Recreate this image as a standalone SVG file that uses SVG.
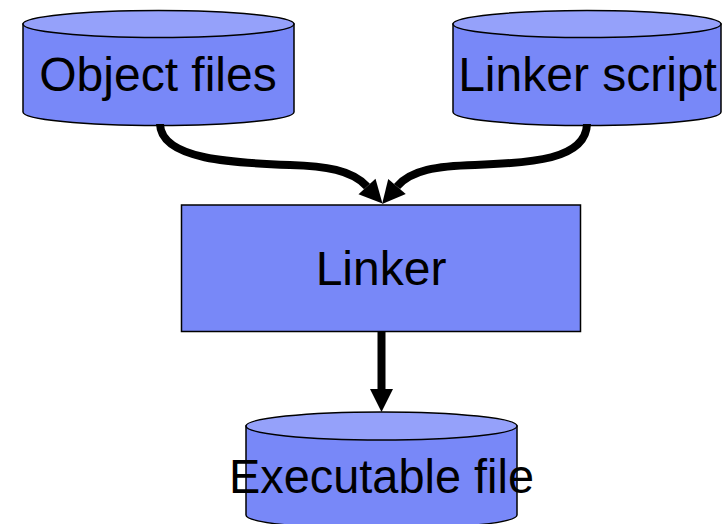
<svg xmlns="http://www.w3.org/2000/svg" width="723" height="524" viewBox="0 0 723 524">
  <defs>
    <style>
      .body { fill: #7888f8; stroke: #000; stroke-width: 1.5; }
      .lid { fill: #95a1fa; stroke: #000; stroke-width: 1.5; }
      .box { fill: #7888f8; stroke: #000; stroke-width: 1.5; }
      .label { font-family: "Liberation Sans", Arial, sans-serif; font-size: 48px; fill: #000; text-anchor: middle; }
      .wire { fill: none; stroke: #000; stroke-width: 8; }
    </style>
    <marker id="head" markerUnits="userSpaceOnUse" markerWidth="26" markerHeight="26" viewBox="0 -13 26 26" refX="0" refY="0" orient="auto" overflow="visible">
      <path d="M0,-11.5 L23,0 L0,11.5 z" fill="#000"/>
    </marker>
  </defs>

  <!-- storage: object files -->
  <g id="object-files">
    <path class="body" d="M23,24 L23,112 A135.5,13.5 0 0 0 294,112 L294,24 z"/>
    <ellipse class="lid" cx="158.5" cy="24" rx="135.5" ry="13.5"/>
    <text class="label" x="158" y="91">Object files</text>
  </g>

  <!-- storage: linker script -->
  <g id="linker-script">
    <path class="body" d="M453,24 L453,112 A134,13.5 0 0 0 721,112 L721,24 z"/>
    <ellipse class="lid" cx="587" cy="24" rx="134" ry="13.5"/>
    <text class="label" x="587.5" y="91">Linker script</text>
  </g>

  <!-- process: linker -->
  <g id="linker">
    <rect class="box" x="181.5" y="205" width="399" height="126.5"/>
    <text class="label" x="381" y="285" font-size="47">Linker</text>
  </g>

  <!-- storage: executable file -->
  <g id="executable-file">
    <path class="body" d="M246,426 L246,515 A135.5,14 0 0 0 517,515 L517,426 z"/>
    <ellipse class="lid" cx="381.5" cy="426" rx="135.5" ry="14"/>
    <text class="label" x="381.5" y="493" textLength="305" lengthAdjust="spacingAndGlyphs">Executable file</text>
  </g>

  <!-- connectors -->
  <g id="connectors">
    <path class="wire" d="M160,124 C161,160 235,163 290,165 C325,166 352,170 367,186.5" marker-end="url(#head)"/>
    <path class="wire" d="M587,124 C586,160 530,163 475,165 C437,166 411,170 397,186.5" marker-end="url(#head)"/>
    <path class="wire" d="M381.5,331.5 L381.5,389" marker-end="url(#head)"/>
  </g>
</svg>
